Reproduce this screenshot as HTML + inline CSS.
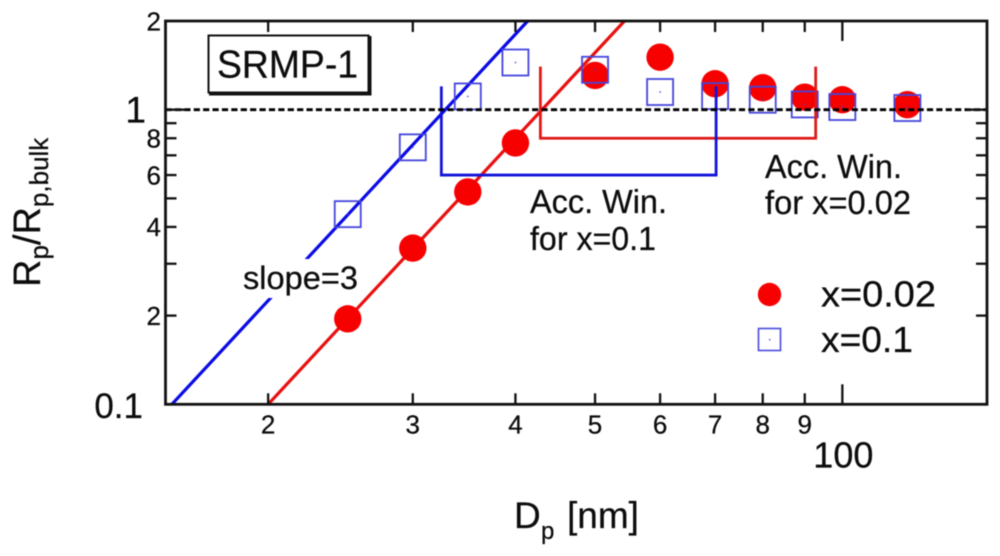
<!DOCTYPE html>
<html lang="en">
<head>
<meta charset="utf-8">
<title>SRMP-1 Rp/Rp,bulk vs Dp</title>
<style>
  html, body { margin: 0; padding: 0; background: #fff; }
  body { width: 1000px; height: 556px; overflow: hidden; }
  svg { display: block; filter: blur(0.5px); font-family: "Liberation Sans", Arial, sans-serif; fill: #0c0c0c; }
  text { stroke: #0c0c0c; stroke-width: 0.25px; }
</style>
</head>
<body>
<svg id="chart" width="1000" height="556" viewBox="0 0 1000 556" xmlns="http://www.w3.org/2000/svg">
  <rect x="0" y="0" width="1000" height="556" fill="#fff"/>
  <g id="lines"></g>
  <g id="points"></g>
  <g id="brackets"></g>
  <g id="axes"></g>

  <rect x="243" y="259" width="115" height="39" fill="#fff"/>
  <text x="243" y="289" font-size="32" textLength="115" lengthAdjust="spacingAndGlyphs">slope=3</text>

  <g>
    <rect x="208.5" y="35.5" width="160" height="57" fill="#fff" stroke="#111" stroke-width="2"/>
    <path d="M209 93.5H369.5V36" fill="none" stroke="#111" stroke-width="4"/>
    <text x="217" y="77.5" font-size="39" textLength="141" lengthAdjust="spacingAndGlyphs">SRMP-1</text>
  </g>

  <text x="530" y="213" font-size="33" textLength="137" lengthAdjust="spacingAndGlyphs">Acc. Win.</text>
  <text x="530" y="250" font-size="33" textLength="126" lengthAdjust="spacingAndGlyphs">for x=0.1</text>
  <text x="765" y="178" font-size="33" textLength="137" lengthAdjust="spacingAndGlyphs">Acc. Win.</text>
  <text x="765" y="214" font-size="33" textLength="146" lengthAdjust="spacingAndGlyphs">for x=0.02</text>

  <g>
    <circle cx="769.5" cy="294.5" r="11.7" fill="#f70000"/>
    <text x="821" y="306.5" font-size="36" textLength="115" lengthAdjust="spacingAndGlyphs">x=0.02</text>
    <rect x="758.5" y="328.5" width="22" height="22" fill="none" stroke="#4a4ae0" stroke-width="1.6"/>
    <rect x="769" y="339" width="1.4" height="1.4" fill="#4a4ae0"/>
    <text x="821" y="352" font-size="36" textLength="92" lengthAdjust="spacingAndGlyphs">x=0.1</text>
  </g>

  <text y="528" font-size="37"><tspan x="514">D</tspan><tspan x="541" y="539" font-size="24">p</tspan><tspan x="567" y="528" font-size="37">[nm]</tspan></text>

  <text transform="translate(40 287) rotate(-90)" font-size="38">R<tspan dy="8" font-size="26">p</tspan><tspan dy="-8">/R</tspan><tspan dy="8" font-size="26">p,bulk</tspan></text>
</svg>

<script>
// Data
const dpValues = [25, 30, 35, 40, 50, 60, 70, 80, 90, 100, 120];
const ratioX002 = [0.195, 0.339, 0.526, 0.771, 1.307, 1.507, 1.225, 1.187, 1.103, 1.081, 1.04];
const ratioX01 = [0.442, 0.745, 1.109, 1.446, 1.366, 1.148, 1.112, 1.081, 1.042, 1.021, 1.013];
const slopeLineX01 = [[15.27, 0.1], [41.4, 2]];
const slopeLineX002 = [[20, 0.1], [54.3, 2]];
const windowX01 = [32.5, 70.2, 0.6, 1.2];
const windowX002 = [42.9, 92.8, 0.8, 1.4];
const referenceLevel = [1];
const xDomain = [15, 150];
const yDomain = [0.1, 2];
const xMinorTicks = [20, 30, 40, 50, 60, 70, 80, 90];
const xMajorTicks = [100];
const xSmallLabels = ["2", "3", "4", "5", "6", "7", "8", "9"];
const xLargeLabels = ["100"];
const yMinorTicks = [0.2, 0.3, 0.4, 0.5, 0.6, 0.7, 0.8, 0.9];
const yMajorTicks = [1];
const ySmallLabelValues = [2, 0.8, 0.6, 0.4, 0.2];
const ySmallLabels = ["2", "8", "6", "4", "2"];
const yLargeLabelValues = [1, 0.1];
const yLargeLabels = ["1", "0.1"];

const plotLeft = 165.5, plotRight = 987, plotTop = 21, plotBottom = 404.3;
const NS = "http://www.w3.org/2000/svg";

function xScale(v) {
  return plotLeft + (Math.log10(v) - Math.log10(xDomain[0])) / (Math.log10(xDomain[1]) - Math.log10(xDomain[0])) * (plotRight - plotLeft);
}
function yScale(v) {
  return plotBottom - (Math.log10(v) - Math.log10(yDomain[0])) / (Math.log10(yDomain[1]) - Math.log10(yDomain[0])) * (plotBottom - plotTop);
}
function make(tag, parent, props) {
  const el = document.createElementNS(NS, tag);
  for (const k in props) el.setAttribute(k, props[k]);
  parent.appendChild(el);
  return el;
}

const linesG = document.getElementById("lines");
const pointsG = document.getElementById("points");
const bracketsG = document.getElementById("brackets");
const axesG = document.getElementById("axes");

// Slope lines
const blueLine = make("line", linesG, { x1: xScale(slopeLineX01[0][0]), y1: yScale(slopeLineX01[0][1]), x2: xScale(slopeLineX01[1][0]), y2: yScale(slopeLineX01[1][1]), stroke: "#0a0ae6", "stroke-width": 3.2 });


const redLine = make("line", linesG, { x1: xScale(slopeLineX002[0][0]), y1: yScale(slopeLineX002[0][1]), x2: xScale(slopeLineX002[1][0]), y2: yScale(slopeLineX002[1][1]), stroke: "#e81010", "stroke-width": 3.2 });



// Points
dpValues.forEach(function (d, i) {
  const c = make("circle", pointsG, { cx: xScale(d), cy: yScale(ratioX002[i]), r: 13.7, fill: "#f70000" });
  
  
});
dpValues.forEach(function (d, i) {
  const cx = xScale(d), cy = yScale(ratioX01[i]);
  const s = make("rect", pointsG, { x: cx - 13, y: cy - 13, width: 26, height: 26, fill: "none", stroke: "#4545dc", "stroke-width": 1.8 });
  
  
  const dot = make("rect", pointsG, { x: cx - 0.7, y: cy - 0.7, width: 1.4, height: 1.4, fill: "#4545dc" });
  
  
});

// Acceptance windows
function bracketPath(w) {
  return "M" + xScale(w[0]) + " " + yScale(w[3]) + "V" + yScale(w[2]) + "H" + xScale(w[1]) + "V" + yScale(w[3]);
}
const bracketRed = make("path", bracketsG, { d: bracketPath(windowX002), fill: "none", stroke: "#e01818", "stroke-width": 2.8 });


const bracketBlue = make("path", bracketsG, { d: bracketPath(windowX01), fill: "none", stroke: "#1414d8", "stroke-width": 2.8 });



// Reference line
const refLine = make("line", axesG, { x1: plotLeft, x2: plotRight, y1: yScale(referenceLevel[0]), y2: yScale(referenceLevel[0]), stroke: "#000", "stroke-width": 2.8, "stroke-dasharray": "6.2 3.2" });



// Frame
const frame = make("rect", axesG, { x: plotLeft, y: plotTop, width: plotRight - plotLeft, height: plotBottom - plotTop, fill: "none", stroke: "#111", "stroke-width": 2.8 });



// X ticks
function xTick(v, len) {
  const x = xScale(v);
  const b = make("line", axesG, { x1: x, x2: x, y1: plotBottom, y2: plotBottom - len, stroke: "#111", "stroke-width": 2.3 });
  
  
  const t = make("line", axesG, { x1: x, x2: x, y1: plotTop, y2: plotTop + len, stroke: "#111", "stroke-width": 2.3 });
  
  
}
xMinorTicks.forEach(function (v) { xTick(v, 11); });
xMajorTicks.forEach(function (v) { xTick(v, 20); });

// Y ticks
function yTick(v, len) {
  const y = yScale(v);
  const l = make("line", axesG, { x1: plotLeft, x2: plotLeft + len, y1: y, y2: y, stroke: "#111", "stroke-width": 2.3 });
  
  
  const r = make("line", axesG, { x1: plotRight, x2: plotRight - len, y1: y, y2: y, stroke: "#111", "stroke-width": 2.3 });
  
  
}
yMinorTicks.forEach(function (v) { yTick(v, 11); });
yMajorTicks.forEach(function (v) { yTick(v, 20); });

// Tick labels
xMinorTicks.forEach(function (v, i) {
  const t = make("text", axesG, { x: xScale(v), y: 433.5, "font-size": 26, "text-anchor": "middle" });
  t.textContent = xSmallLabels[i];
  
  
});
xMajorTicks.forEach(function (v, i) {
  const t = make("text", axesG, { x: xScale(v) + 1, y: 467.5, "font-size": 36, "text-anchor": "middle" });
  t.textContent = xLargeLabels[i];
  
  
});
ySmallLabelValues.forEach(function (v, i) {
  const t = make("text", axesG, { x: 161, y: yScale(v) + 9.3, "font-size": 26, "text-anchor": "end" });
  t.textContent = ySmallLabels[i];
  
  
});
yLargeLabelValues.forEach(function (v, i) {
  const isUnit = v === 1;
  const t = make("text", axesG, { x: isUnit ? 146 : 143, y: yScale(v) + (isUnit ? 13 : 13.7), "font-size": isUnit ? 37 : 35, "text-anchor": "end" });
  t.textContent = yLargeLabels[i];
  
  
});
</script>
</body>
</html>
